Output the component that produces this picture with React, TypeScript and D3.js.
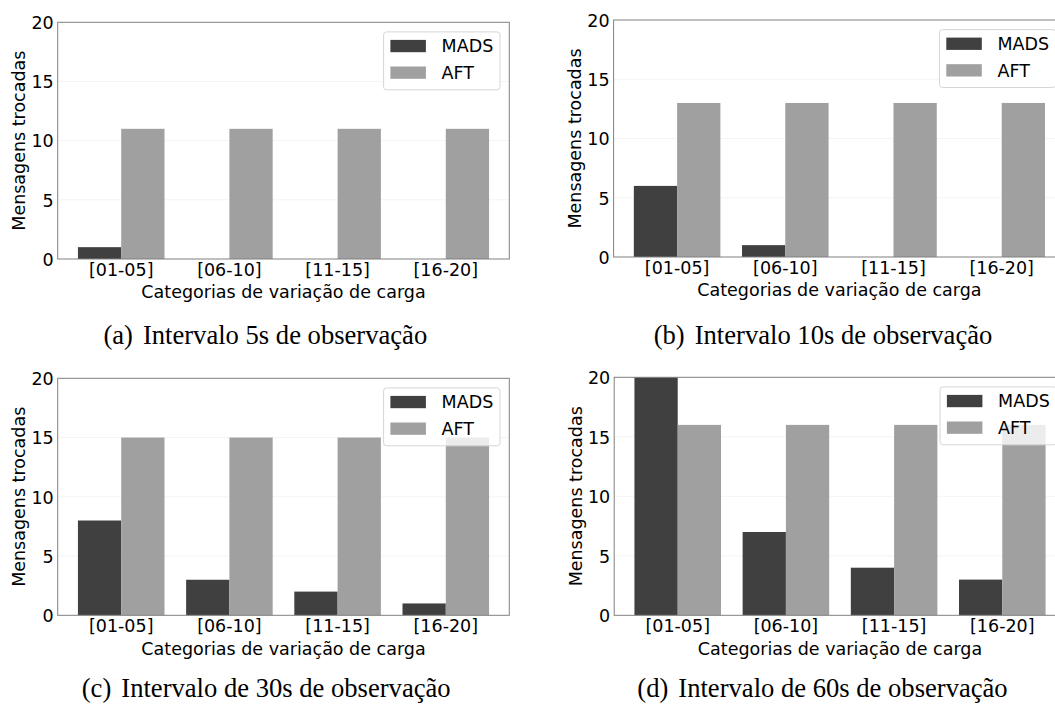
import React, { useEffect, useRef } from 'react';
import * as d3 from 'd3';

const categories = ['[01-05]', '[06-10]', '[11-15]', '[16-20]'];
const seriesNames = ['MADS', 'AFT'];
const yTicks = [0, 5, 10, 15, 20];

const mads5s = [1, 0, 0, 0];
const aft5s = [11, 11, 11, 11];
const mads10s = [6, 1, 0, 0];
const aft10s = [13, 13, 13, 13];
const mads30s = [8, 3, 2, 1];
const aft30s = [15, 15, 15, 15];
const mads60s = [20, 7, 4, 3];
const aft60s = [16, 16, 16, 16];

const captionTags = ['(a)', '(b)', '(c)', '(d)'];
const captionTexts = [
  'Intervalo 5s de observação',
  'Intervalo 10s de observação',
  'Intervalo de 30s de observação',
  'Intervalo de 60s de observação',
];

const xLabel = 'Categorias de variação de carga';
const yLabel = 'Mensagens trocadas';

const colors = ['#404040', '#a0a0a0'];
const SANS = '"DejaVu Sans", sans-serif';
const SERIF = '"Liberation Serif", "Times New Roman", serif';

// layout of each subfigure (axes box + caption)
const panels = [
  { left: 57.7, top: 22.3, bottom: 259, capX: 265.3, capY: 344.3, mads: mads5s, aft: aft5s },
  { left: 613.6, top: 20, bottom: 257, capX: 823, capY: 344.3, mads: mads10s, aft: aft10s },
  { left: 57.7, top: 378.3, bottom: 615.3, capX: 266.2, capY: 697, mads: mads30s, aft: aft30s },
  { left: 614.2, top: 377.3, bottom: 615.3, capX: 822.5, capY: 697, mads: mads60s, aft: aft60s },
];
const axW = 451.6;

const App = () => {
  const ref = useRef<SVGSVGElement | null>(null);

  useEffect(() => {
    const svg = d3.select(ref.current);
    svg.selectAll('*').remove();

    panels.forEach((p, i) => {
      const g = svg.append('g');
      const right = p.left + axW;

      const x = d3.scaleBand<string>()
        .domain(categories)
        .range([p.left, right])
        .paddingInner(0.2)
        .paddingOuter(0.187);
      const xs = d3.scaleBand<string>()
        .domain(seriesNames)
        .range([0, x.bandwidth()]);
      const y = d3.scaleLinear()
        .domain([0, 20])
        .range([p.bottom, p.top]);

      // very faint grid
      g.selectAll('.grid')
        .data(yTicks.slice(1, -1))
        .enter()
        .append('line')
        .attr('x1', p.left)
        .attr('x2', right)
        .attr('y1', d => y(d))
        .attr('y2', d => y(d))
        .attr('stroke', '#f4f4f4')
        .attr('stroke-width', 1);

      // bars
      const values = [p.mads, p.aft];
      seriesNames.forEach((s, si) => {
        g.selectAll(`.bar-${si}`)
          .data(categories.map((c, ci) => ({ c, v: values[si][ci] })))
          .enter()
          .append('rect')
          .attr('x', d => (x(d.c) as number) + (xs(s) as number))
          .attr('width', xs.bandwidth())
          .attr('y', d => y(d.v))
          .attr('height', d => y(0) - y(d.v))
          .attr('fill', colors[si]);
      });

      // spines
      g.append('rect')
        .attr('x', p.left)
        .attr('y', p.top)
        .attr('width', axW)
        .attr('height', p.bottom - p.top)
        .attr('fill', 'none')
        .attr('stroke', '#808080')
        .attr('stroke-width', 1);

      // y axis
      const ya = g.append('g')
        .attr('transform', `translate(${p.left}, 0)`)
        .call(d3.axisLeft(y).tickValues(yTicks).tickSize(0).tickPadding(4));
      ya.select('.domain').remove();
      ya.selectAll('text')
        .attr('font-family', SANS)
        .attr('font-size', 17.5)
        .attr('fill', '#000')
        .attr('dy', '0.36em');

      // x axis
      const xa = g.append('g')
        .attr('transform', `translate(0, ${p.bottom})`)
        .call(d3.axisBottom(x).tickSize(0).tickPadding(4.6));
      xa.select('.domain').remove();
      xa.selectAll('text')
        .attr('font-family', SANS)
        .attr('font-size', 17.5)
        .attr('fill', '#000');

      g.append('text')
        .attr('x', (p.left + right) / 2)
        .attr('y', p.bottom + 39.3)
        .attr('text-anchor', 'middle')
        .attr('font-family', SANS)
        .attr('font-size', 17.5)
        .text(xLabel);

      g.append('text')
        .attr('transform', `translate(${p.left - 39}, ${(p.top + p.bottom) / 2}) rotate(-90)`)
        .attr('dy', '0.36em')
        .attr('text-anchor', 'middle')
        .attr('font-family', SANS)
        .attr('font-size', 17.5)
        .text(yLabel);

      // legend
      const lx = right - 9.3 - 116.4;
      const ly = p.top + 9.6;
      const legend = g.append('g').attr('transform', `translate(${lx}, ${ly})`);
      legend.append('rect')
        .attr('width', 116.4)
        .attr('height', 57.9)
        .attr('rx', 3)
        .attr('fill', '#fff')
        .attr('fill-opacity', 0.8)
        .attr('stroke', '#d6d6d6')
        .attr('stroke-width', 1);
      seriesNames.forEach((s, si) => {
        legend.append('rect')
          .attr('x', 6.8)
          .attr('y', 8 + si * 26.6)
          .attr('width', 35.5)
          .attr('height', 12.3)
          .attr('fill', colors[si]);
        legend.append('text')
          .attr('x', 58)
          .attr('y', 14.2 + si * 26.6)
          .attr('dy', '0.36em')
          .attr('font-family', SANS)
          .attr('font-size', 17.5)
          .text(s);
      });

      // caption
      const cap = svg.append('text')
        .attr('x', p.capX)
        .attr('y', p.capY)
        .attr('text-anchor', 'middle')
        .attr('font-family', SERIF)
        .attr('font-size', 26.6)
        .attr('fill', '#000');
      cap.append('tspan').text(captionTags[i]);
      cap.append('tspan').attr('dx', 10).text(captionTexts[i]);
    });
  }, []);

  return (
    <svg
      ref={ref}
      width={1055}
      height={704}
      style={{ position: 'absolute', left: 0, top: 0, background: '#fff' }}
    />
  );
};

export default App;
